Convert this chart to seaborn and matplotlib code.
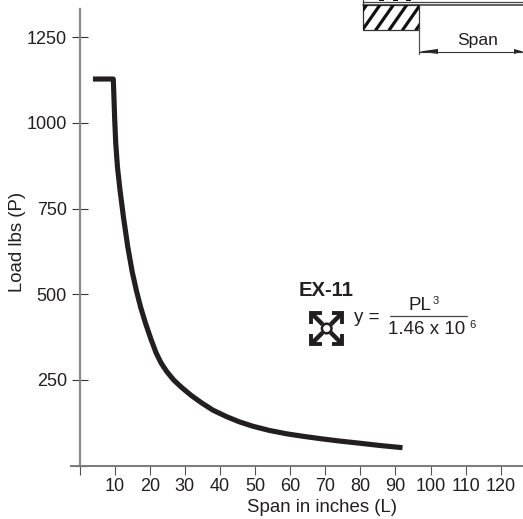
import matplotlib
matplotlib.use('Agg')
import matplotlib.pyplot as plt
from matplotlib.patches import Rectangle, Polygon, Circle
import numpy as np
import pandas as pd
import seaborn as sns

sns.set_style('white')
plt.rcParams['font.family'] = ['Liberation Sans', 'DejaVu Sans']

# values
span = [3.8, 9.6, 9.8, 10.0, 10.3, 10.8, 11.5, 12.5, 13.7, 15, 16.2, 17.4, 18.8, 20.3, 21.8, 23.2, 24.8,
        26.8, 29.1, 31.8, 34.8, 38, 41.9, 45.5, 49.4, 54, 59, 63.5, 68.5, 74, 79, 85.5, 92]
load = [1128, 1128, 1070, 1010, 940, 870, 805, 725, 640, 565, 510, 462, 415, 370, 329, 300, 275,
        250, 228, 205, 183, 162, 143, 128, 115, 103, 93, 86, 79, 72, 66.5, 59, 52.5]
x_ticks = [0, 10, 20, 30, 40, 50, 60, 70, 80, 90, 100, 110, 120]
x_labels = ['', '10', '20', '30', '40', '50', '60', '70', '80', '90', '100', '110', '120']
y_ticks = [0, 250, 500, 750, 1000, 1250]
y_labels = ['', '250', '500', '750', '1000', '1250']

W, H = 523, 519
TXT = '#231f20'
df = pd.DataFrame({'span': span, 'load': load})

fig = plt.figure(figsize=(W / 100, H / 100), dpi=100)
ax = fig.add_axes([0, 0, 1, 1])
ax.patch.set_alpha(0)
sns.lineplot(data=df, x='span', y='load', estimator=None, sort=False, color=TXT,
             linewidth=3.7, solid_joinstyle='round', solid_capstyle='butt', ax=ax, legend=False)

# pixel <-> data mapping: 0 is at 79.6 px / 465.7 px
ax.set_xlim(-79.6 / 3.51, (W - 79.6) / 3.51)
ax.set_ylim((465.7 - H) / 0.3428, 465.7 / 0.3428)
for s in ['top', 'right']:
    ax.spines[s].set_visible(False)
ax.spines['left'].set_position(('data', 0))
ax.spines['bottom'].set_position(('data', 0))
ax.spines['left'].set_bounds(0, 1332)
ax.spines['bottom'].set_bounds(-2.45, 126.3)
ax.spines['left'].set_color('#8a8a8a')
ax.spines['bottom'].set_color('#7a7a7a')
ax.spines['left'].set_linewidth(1.6)
ax.spines['bottom'].set_linewidth(1.4)

ax.set_xticks(x_ticks)
ax.set_xticklabels(x_labels)
ax.set_yticks(y_ticks)
ax.set_yticklabels(y_labels)
ax.tick_params(axis='x', bottom=True, direction='out', length=6.5, width=0.8, color='#555555',
               pad=2, labelsize=13, labelcolor=TXT)
ax.tick_params(axis='y', left=True, direction='inout', length=12.2, width=0.8, color='#333333',
               pad=3, labelsize=13, labelcolor=TXT)
ax.set_xlabel('')
ax.set_ylabel('')

# everything below is placed in pixel coordinates
ov = fig.add_axes([0, 0, 1, 1])
ov.set_xlim(0, W)
ov.set_ylim(H, 0)
ov.axis('off')

ov.text(18, 242, 'Load lbs (P)', rotation=90, ha='center', va='center', fontsize=13.4, color=TXT)
ov.text(322, 508, 'Span in inches (L)', ha='center', va='center', fontsize=13.4, color=TXT)

# profile label and formula
ov.text(299, 290, 'EX-11', fontweight='bold', ha='left', va='center', fontsize=14.6, color=TXT)
ov.text(354, 318, 'y =', ha='left', va='center', fontsize=13.5, color=TXT)
ov.text(409, 306, 'PL', ha='left', va='center', fontsize=13.5, color=TXT)
ov.text(432.5, 301, '3', ha='left', va='center', fontsize=8, color=TXT)
ov.plot([390, 467], [316, 316], color='#444444', lw=0.9)
ov.text(387.5, 330, '1.46 x 10', ha='left', va='center', fontsize=13.5, color=TXT)
ov.text(469, 325, '6', ha='left', va='center', fontsize=8, color=TXT)

# EX-11 cross section icon
cx, cy = 326.7, 328.5
for sx, sy in [(-1, -1), (1, -1), (-1, 1), (1, 1)]:
    ov.plot([cx + sx * 15.5, cx + sx * 15.5, cx + sx * 5],
            [cy + sy * 5, cy + sy * 15.5, cy + sy * 15.5],
            color=TXT, lw=2.8, solid_joinstyle='miter', solid_capstyle='butt')
    ov.plot([cx + sx * 4, cx + sx * 15], [cy + sy * 4, cy + sy * 15], color=TXT, lw=3.2,
            solid_capstyle='butt')
ov.add_patch(Circle((cx, cy), 4.8, facecolor='white', edgecolor=TXT, lw=1.8, zorder=3))

# beam sketch, top right
ov.add_patch(Rectangle((363, 5), 56, 25, facecolor='white', edgecolor='#333333', lw=0.9, zorder=2))
clip = Rectangle((363, 5), 56, 25, transform=ov.transData)
for x0 in np.arange(349, 425, 13.4):
    hatch_line, = ov.plot([x0, x0 + 17.5], [30, 5], color='#111111', lw=2.3, zorder=3)
    hatch_line.set_clip_path(clip)
    if 372 < x0 + 17.5 + 2 < 420:
        ov.add_patch(Rectangle((x0 + 17.5 - 0.5, 0), 5, 1, facecolor='#111111', edgecolor='none', zorder=3))
ov.plot([363, 363], [0, 5], color='#333333', lw=0.9)
ov.plot([363, W], [1.5, 1.5], color='#444444', lw=0.9)
ov.plot([363, W], [4.6, 4.6], color='#333333', lw=1.1)
ov.plot([419, 419], [30, 54], color='#555555', lw=0.9)
ov.plot([419, W], [51.5, 51.5], color='#333333', lw=0.8)
ov.add_patch(Polygon([[419.5, 51.5], [438, 49], [438, 54]], closed=True, facecolor=TXT, edgecolor='none'))
ov.add_patch(Polygon([[523, 51.5], [514, 49], [514, 54]], closed=True, facecolor=TXT, edgecolor='none'))
ov.text(478, 40, 'Span', ha='center', va='center', fontsize=12.6, color=TXT)

fig.savefig('out.png', dpi=100)
